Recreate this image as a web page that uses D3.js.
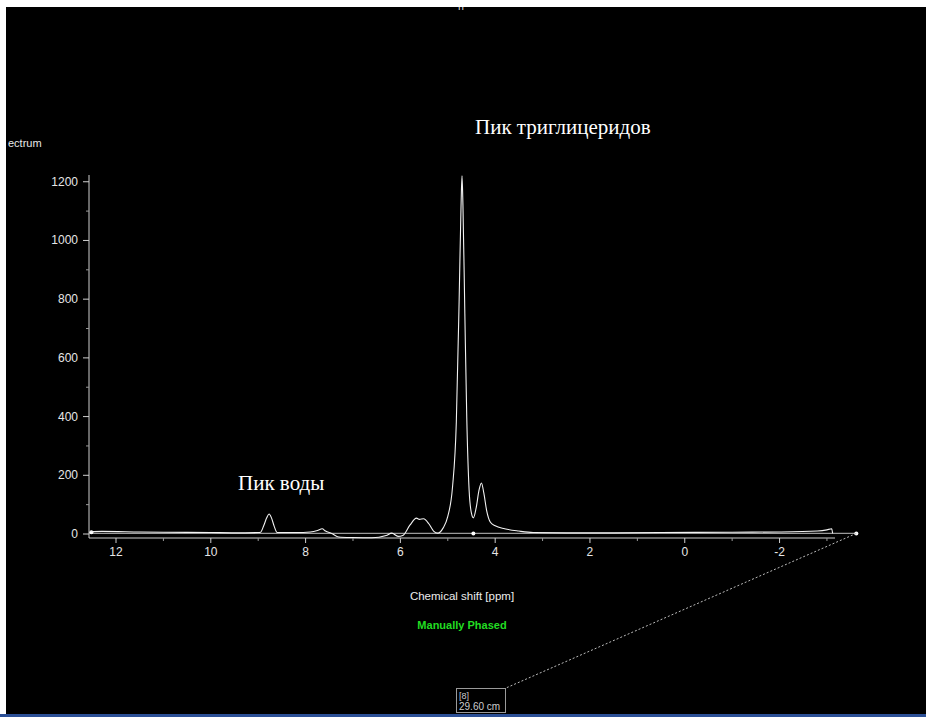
<!DOCTYPE html>
<html>
<head>
<meta charset="utf-8">
<script src="https://cdn.jsdelivr.net/npm/d3@7"></script>
<style>
  body { margin: 0; background: #fff; }
  svg { display: block; }
</style>
</head>
<body>
<div class="chart"></div>
<script>
// Spectrum data (ppm, intensity)
var shiftPpm = [12.55, 12.3, 11.5, 11.0, 10.0, 9.5, 9.0, 8.95, 8.88, 8.82, 8.77, 8.72, 8.66, 8.6,
  8.2, 7.9, 7.75, 7.65, 7.58, 7.45, 7.3, 7.0, 6.6, 6.3, 6.18, 6.05, 5.95, 5.8, 5.66, 5.6, 5.51,
  5.4, 5.3, 5.21, 5.1, 5.0, 4.9, 4.82, 4.76, 4.72, 4.70, 4.68, 4.64, 4.6, 4.55, 4.5, 4.46, 4.4,
  4.34, 4.29, 4.24, 4.18, 4.1, 4.0, 3.8, 3.5, 3.2, 2.5, 1.5, 0.5, -1.0, -2.0, -2.8, -3.0, -3.1, -3.12];
var intensity = [8, 9, 7, 6, 5, 4, 5, 6, 30, 55, 68, 55, 25, 5,
  5, 7, 12, 18, 10, 2, -10, -12, -13, -5, 3, -8, -5, 30, 54, 50, 52,
  35, 10, 3, 20, 60, 160, 380, 800, 1120, 1220, 1120, 750, 400, 150, 70, 55, 90,
  150, 174, 140, 80, 40, 28, 18, 10, 5, 4, 4, 5, 6, 7, 10, 14, 18, 2];

var xTicks = [12, 10, 8, 6, 4, 2, 0, -2];
var xMinor = [11, 9, 7, 5, 3, 1, -1, -3];
var yTicks = [0, 200, 400, 600, 800, 1000, 1200];
var yMinor = [100, 300, 500, 700, 900, 1100];

var svgWidth = 926, svgHeight = 717;

var svg = d3.select(".chart").append("svg")
  .attr("width", svgWidth)
  .attr("height", svgHeight);

// background
svg.append("rect").attr("x", 0).attr("y", 0).attr("width", svgWidth).attr("height", svgHeight).attr("fill", "#000");

// scales
var x = d3.scaleLinear().domain([12.57, -3.17]).range([89, 835]);
var y = d3.scaleLinear().domain([-13.6, 1223]).range([538, 175]);

var axisColor = "#cfcfcf";
var font = "'Liberation Sans', Arial, sans-serif";

// y axis
var yAxis = svg.append("g").attr("transform", "translate(89,0)");
yAxis.append("line").attr("x1", 0).attr("x2", 0).attr("y1", 175).attr("y2", 538).attr("stroke", axisColor);
yAxis.selectAll(".ymaj").data(yTicks).enter().append("line")
  .attr("x1", -6).attr("x2", 0).attr("y1", d => y(d)).attr("y2", d => y(d)).attr("stroke", axisColor);
yAxis.selectAll(".ymin").data(yMinor).enter().append("line")
  .attr("x1", -3).attr("x2", 0).attr("y1", d => y(d)).attr("y2", d => y(d)).attr("stroke", "#999");
yAxis.selectAll(".ylab").data(yTicks).enter().append("text")
  .attr("x", -11).attr("y", d => y(d) + 4)
  .attr("text-anchor", "end").attr("fill", "#e6e6e6")
  .style("font", "12px " + font)
  .text(d => d);

// x axis
var xAxis = svg.append("g").attr("transform", "translate(0,538)");
xAxis.append("line").attr("x1", 89).attr("x2", 835).attr("y1", 0).attr("y2", 0).attr("stroke", axisColor);
xAxis.selectAll(".xmaj").data(xTicks).enter().append("line")
  .attr("x1", d => x(d)).attr("x2", d => x(d)).attr("y1", 0).attr("y2", 5).attr("stroke", axisColor);
xAxis.selectAll(".xmin").data(xMinor).enter().append("line")
  .attr("x1", d => x(d)).attr("x2", d => x(d)).attr("y1", 0).attr("y2", 3).attr("stroke", "#999");
xAxis.selectAll(".xlab").data(xTicks).enter().append("text")
  .attr("x", d => x(d)).attr("y", 18)
  .attr("text-anchor", "middle").attr("fill", "#e6e6e6")
  .style("font", "12px " + font)
  .text(d => d);

// baseline marker line
var baseEnd = -3.62;
svg.append("line")
  .attr("x1", x(12.57)).attr("x2", x(baseEnd))
  .attr("y1", y(2)).attr("y2", y(2))
  .attr("stroke", "#9a9a9a").attr("stroke-width", 1.2);
svg.append("circle").attr("cx", x(4.46)).attr("cy", y(2)).attr("r", 2).attr("fill", "#fff");
svg.append("circle").attr("cx", x(baseEnd)).attr("cy", y(2)).attr("r", 2).attr("fill", "#fff");
svg.append("circle").attr("cx", x(12.52)).attr("cy", y(6)).attr("r", 2).attr("fill", "#fff");

// dotted line to distance box
svg.append("line")
  .attr("x1", x(baseEnd)).attr("y1", y(2))
  .attr("x2", 506).attr("y2", 688)
  .attr("stroke", "#bbb").attr("stroke-dasharray", "2,2");

// spectrum
var pts = shiftPpm.map((d, i) => [d, intensity[i]]);
var line = d3.line()
  .x(d => x(d[0]))
  .y(d => y(d[1]))
  .curve(d3.curveMonotoneX);
svg.append("path")
  .datum(pts)
  .attr("d", line)
  .attr("fill", "none")
  .attr("stroke", "#f2f2f2")
  .attr("stroke-width", 1.1);

// labels
svg.append("text").attr("x", 8).attr("y", 147).attr("fill", "#e8e8e8")
  .style("font", "11px " + font).text("ectrum");
svg.append("text").attr("x", 462).attr("y", 600).attr("text-anchor", "middle").attr("fill", "#ececec")
  .style("font", "11.5px " + font).text("Chemical shift [ppm]");
svg.append("text").attr("x", 462).attr("y", 629).attr("text-anchor", "middle").attr("fill", "#22dd22")
  .style("font", "bold 11px " + font).text("Manually Phased");

svg.append("text").attr("x", 475).attr("y", 134).attr("fill", "#fff")
  .style("font", "21px 'Liberation Serif', 'Times New Roman', serif").text("Пик триглицеридов");
svg.append("text").attr("x", 238).attr("y", 490).attr("fill", "#fff")
  .style("font", "21px 'Liberation Serif', 'Times New Roman', serif").text("Пик воды");

// distance box
svg.append("rect").attr("x", 456.5).attr("y", 688.5).attr("width", 49).attr("height", 24)
  .attr("fill", "#000").attr("stroke", "#9a9a9a");
svg.append("text").attr("x", 459).attr("y", 699).attr("fill", "#ccc")
  .style("font", "9px " + font).text("[8]");
svg.append("text").attr("x", 459).attr("y", 710).attr("fill", "#ccc")
  .style("font", "10px " + font).text("29.60 cm");

// cut-off title fragment at the top
svg.append("text").attr("x", 461).attr("y", 10).attr("text-anchor", "middle").attr("fill", "#ddd")
  .style("font", "11px " + font).text("п");

// screenshot frame edges
svg.append("rect").attr("x", 0).attr("y", 0).attr("width", svgWidth).attr("height", 7).attr("fill", "#fff");
svg.append("rect").attr("x", 0).attr("y", 0).attr("width", 6).attr("height", svgHeight).attr("fill", "#fff");
svg.append("rect").attr("x", 0).attr("y", 714).attr("width", svgWidth).attr("height", 3).attr("fill", "#2b4f96");
</script>
</body>
</html>
